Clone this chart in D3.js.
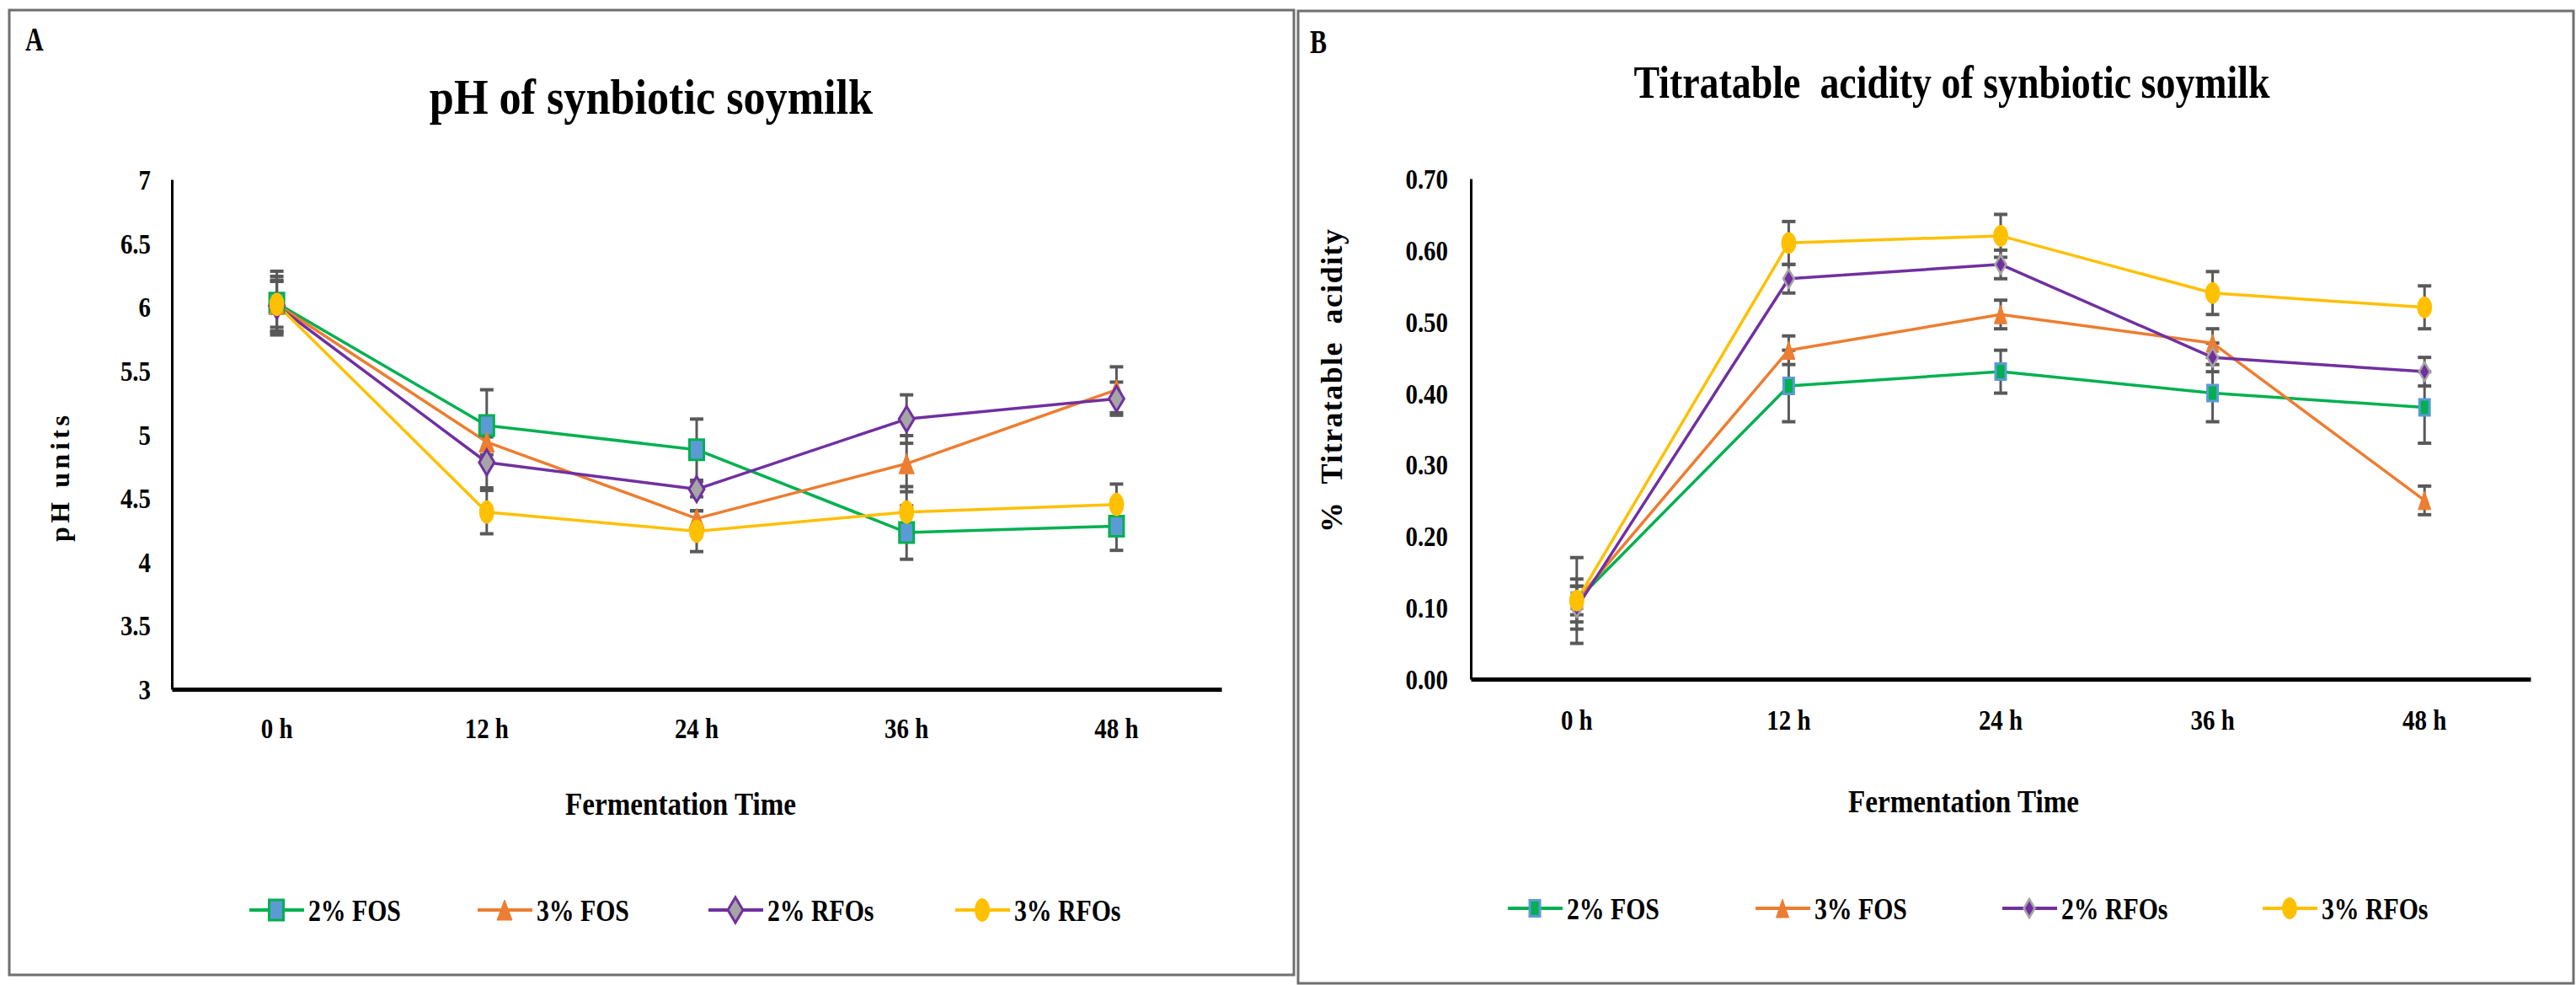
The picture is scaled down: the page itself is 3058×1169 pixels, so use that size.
<!DOCTYPE html>
<html>
<head>
<meta charset="utf-8">
<script src="https://cdnjs.cloudflare.com/ajax/libs/d3/7.8.5/d3.min.js"></script>
<style>
body { margin: 0; background: #fff; }
svg text { font-family: "Liberation Serif", "Times New Roman", serif; font-weight: bold; fill: #000; white-space: pre; }
</style>
</head>
<body>
<div id="chart"></div>
<script>
// categories
const timePoints = ["0 h", "12 h", "24 h", "36 h", "48 h"];
const seriesNames = ["2% FOS", "3% FOS", "2% RFOs", "3% RFOs"];

// panel A : pH
const phTicks = [3, 3.5, 4, 4.5, 5, 5.5, 6, 6.5, 7];
const phFos2 = [6.03, 5.07, 4.88, 4.23, 4.28];
const phFos3 = [6.02, 4.94, 4.34, 4.77, 5.35];
const phRfos2 = [6.01, 4.78, 4.57, 5.12, 5.28];
const phRfos3 = [6.02, 4.39, 4.24, 4.39, 4.45];
const phFos2Err = [0.25, 0.28, 0.24, 0.21, 0.19];
const phFos3Err = [0.22, 0.10, 0.06, 0.22, 0.18];
const phRfos2Err = [0.20, 0.20, 0.06, 0.19, 0.13];
const phRfos3Err = [0.18, 0.17, 0.16, 0.20, 0.16];

// panel B : titratable acidity
const taTicks = [0, 0.1, 0.2, 0.3, 0.4, 0.5, 0.6, 0.7];
const taFos2 = [0.11, 0.41, 0.43, 0.40, 0.38];
const taFos3 = [0.11, 0.46, 0.51, 0.47, 0.25];
const taRfos2 = [0.10, 0.56, 0.58, 0.45, 0.43];
const taRfos3 = [0.11, 0.61, 0.62, 0.54, 0.52];
const taFos2Err = [0.06, 0.05, 0.03, 0.04, 0.05];
const taFos3Err = [0.03, 0.02, 0.02, 0.02, 0.02];
const taRfos2Err = [0.03, 0.02, 0.02, 0.02, 0.02];
const taRfos3Err = [0.02, 0.03, 0.03, 0.03, 0.03];

const lineColors = ["#00B050", "#ED7D31", "#7030A0", "#FFC000"];

const markA = [
	{ shape: "square", w: 17, h: 24, fill: "#5B9BD5", stroke: "#00B050", sw: 3 },
	{ shape: "triangle", w: 18, h: 24, fill: "#ED7D31", stroke: "#ED7D31", sw: 1 },
	{ shape: "diamond", w: 18, h: 30, fill: "#A5A5A5", stroke: "#7030A0", sw: 3 },
	{ shape: "circle", w: 17, h: 27, fill: "#FFC000", stroke: "#FFC000", sw: 1 },
];
const markB = [
	{ shape: "square", w: 12, h: 19, fill: "#00B050", stroke: "#5B9BD5", sw: 3 },
	{ shape: "triangle", w: 15, h: 22, fill: "#ED7D31", stroke: "#ED7D31", sw: 1 },
	{ shape: "diamond", w: 13, h: 22, fill: "#7030A0", stroke: "#A5A5A5", sw: 2.5 },
	{ shape: "circle", w: 17, h: 25, fill: "#FFC000", stroke: "#FFC000", sw: 1 },
];

const squeeze = 0.85;
const svg = d3.select("#chart").append("svg").attr("width", 3058).attr("height", 1169);

function addText(g, txt, x, y, size, anchor, sx) {
	return g.append("text")
		.attr("transform", `translate(${x},${y}) scale(${sx || squeeze},1)`)
		.attr("text-anchor", anchor || "middle")
		.style("font-size", size + "px")
		.text(txt);
}

function shapePath(s) {
	const w = s.w / 2, h = s.h / 2;
	if (s.shape === "square") return `M${-w},${-h}H${w}V${h}H${-w}Z`;
	if (s.shape === "triangle") return `M0,${-h}L${w},${h}L${-w},${h}Z`;
	if (s.shape === "diamond") return `M0,${-h}L${w},0L0,${h}L${-w},0Z`;
	return `M${-w},0A${w},${h} 0 1,0 ${w},0A${w},${h} 0 1,0 ${-w},0Z`;
}

function drawMarker(g, s, cx, cy) {
	g.append("path")
		.attr("d", shapePath(s))
		.attr("transform", `translate(${cx},${cy})`)
		.attr("fill", s.fill)
		.attr("stroke", s.stroke)
		.attr("stroke-width", s.sw);
}

function drawPanel(p) {
	const g = svg.append("g");

	// frame
	g.append("rect")
		.attr("x", p.box[0]).attr("y", p.box[1])
		.attr("width", p.box[2] - p.box[0]).attr("height", p.box[3] - p.box[1])
		.attr("fill", "none").attr("stroke", "#6f6f6f").attr("stroke-width", 3);

	addText(g, p.letter, p.letterPos[0], p.letterPos[1], 40, "start", 0.75);
	addText(g, p.title, p.titlePos[0], p.titlePos[1], p.titleSize, "middle", p.titleSqueeze);

	const x = d3.scaleBand().domain(timePoints).range(p.xRange);
	const y = d3.scaleLinear().domain(p.yDomain).range(p.yRange);
	const cx = (d) => x(d) + x.bandwidth() / 2;

	// axes
	const yAxis = g.append("g")
		.attr("transform", `translate(${p.xRange[0]},0)`)
		.call(d3.axisLeft(y).tickValues(p.yTicks).tickFormat(p.yFmt).tickSize(0).tickSizeOuter(0));
	yAxis.select(".domain").attr("stroke", "#000").attr("stroke-width", 3);
	yAxis.selectAll(".tick text")
		.attr("x", -p.yGap / squeeze)
		.attr("dy", "0.34em")
		.attr("transform", `scale(${squeeze},1)`)
		.style("font-size", "34px");

	const xAxis = g.append("g")
		.attr("transform", `translate(0,${p.yRange[0]})`)
		.call(d3.axisBottom(x).tickSize(0).tickSizeOuter(0));
	xAxis.select(".domain").attr("stroke", "#000").attr("stroke-width", 5);
	xAxis.selectAll(".tick text")
		.attr("y", 0).attr("dy", 0)
		.attr("transform", `translate(0,${p.xLabelOff}) scale(${squeeze},1)`)
		.style("font-size", "34px");

	addText(g, "Fermentation Time", p.xTitlePos[0], p.xTitlePos[1], 39, "middle");

	g.append("text")
		.attr("transform", `translate(${p.yTitlePos[0]},${p.yTitlePos[1]}) rotate(-90)`)
		.attr("text-anchor", "middle")
		.attr("textLength", p.yTitleLen)
		.attr("lengthAdjust", "spacing")
		.style("font-size", p.yTitleSize + "px")
		.text(p.yTitle);

	// error bars
	const eb = g.append("g").attr("stroke", "#595959");
	p.series.forEach((s) => {
		s.values.forEach((v, i) => {
			const px = cx(timePoints[i]);
			const lo = y(v - s.err[i]), hi = y(v + s.err[i]);
			eb.append("line").attr("x1", px).attr("x2", px).attr("y1", lo).attr("y2", hi).attr("stroke-width", 3);
			[lo, hi].forEach((yy) => {
				eb.append("line").attr("x1", px - 8).attr("x2", px + 8).attr("y1", yy).attr("y2", yy).attr("stroke-width", 4);
			});
		});
	});

	// lines
	const line = d3.line().x((d, i) => cx(timePoints[i])).y((d) => y(d));
	p.series.forEach((s, k) => {
		g.append("path")
			.attr("d", line(s.values))
			.attr("fill", "none")
			.attr("stroke", lineColors[k])
			.attr("stroke-width", 3.5)
			.attr("stroke-linejoin", "round");
	});

	// markers
	p.series.forEach((s, k) => {
		s.values.forEach((v, i) => drawMarker(g, p.marks[k], cx(timePoints[i]), y(v)));
	});

	// legend
	p.series.forEach((s, k) => {
		const lx = p.legendX[k];
		g.append("line")
			.attr("x1", lx).attr("x2", lx + 65)
			.attr("y1", p.legendY).attr("y2", p.legendY)
			.attr("stroke", lineColors[k]).attr("stroke-width", 4);
		drawMarker(g, p.marks[k], lx + 32, p.legendY);
		addText(g, s.name, lx + 70, p.legendY + 13, 35, "start");
	});
}

drawPanel({
	box: [11, 12, 1536, 1157],
	letter: "A", letterPos: [30, 60],
	title: "pH of synbiotic soymilk", titlePos: [773, 135], titleSize: 60, titleSqueeze: 0.87,
	xRange: [204, 1450], yRange: [818, 213],
	yDomain: [3, 7], yTicks: phTicks, yFmt: (d) => String(d), yGap: 25,
	xLabelOff: 58,
	xTitlePos: [808, 967],
	yTitle: "pH units", yTitlePos: [82, 568], yTitleLen: 150, yTitleSize: 32,
	legendX: [296, 567, 841, 1134], legendY: 1080,
	marks: markA,
	series: [
		{ name: seriesNames[0], values: phFos2, err: phFos2Err },
		{ name: seriesNames[1], values: phFos3, err: phFos3Err },
		{ name: seriesNames[2], values: phRfos2, err: phRfos2Err },
		{ name: seriesNames[3], values: phRfos3, err: phRfos3Err },
	],
});

drawPanel({
	box: [1541, 13, 3055, 1167],
	letter: "B", letterPos: [1555, 63],
	title: "Titratable  acidity of synbiotic soymilk", titlePos: [2317, 116], titleSize: 54, titleSqueeze: 0.85,
	xRange: [1746, 3004], yRange: [806, 212],
	yDomain: [0, 0.7], yTicks: taTicks, yFmt: d3.format(".2f"), yGap: 27,
	xLabelOff: 60,
	xTitlePos: [2331, 964],
	yTitle: "%  Titratable  acidity", yTitlePos: [1593, 452], yTitleLen: 360, yTitleSize: 36,
	legendX: [1790, 2084, 2377, 2686], legendY: 1078,
	marks: markB,
	series: [
		{ name: seriesNames[0], values: taFos2, err: taFos2Err },
		{ name: seriesNames[1], values: taFos3, err: taFos3Err },
		{ name: seriesNames[2], values: taRfos2, err: taRfos2Err },
		{ name: seriesNames[3], values: taRfos3, err: taRfos3Err },
	],
});
</script>
</body>
</html>
